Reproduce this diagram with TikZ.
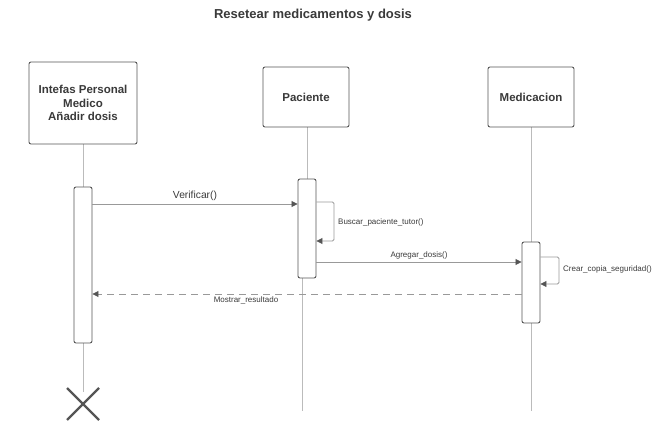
\documentclass[tikz,border=0pt]{standalone}
\usepackage{fontspec}
\setmainfont{Liberation Sans}
\usetikzlibrary{arrows.meta,calc}
\definecolor{boxc}{HTML}{555555}
\definecolor{txt}{HTML}{3A3A3A}
\definecolor{lifec}{HTML}{BBBBBB}
\definecolor{msgc}{HTML}{999999}
\definecolor{headc}{HTML}{555555}
\tikzset{
  x=1pt,y=-1pt,
  actor/.style={draw=boxc,line width=0.9pt,rounded corners=2pt,fill=white,font=\bfseries\fontsize{11.5}{13.5}\selectfont,text=txt,align=center},
  actbox/.style={draw=boxc,line width=0.9pt,rounded corners=2pt,fill=white},
  life/.style={draw=lifec,line width=0.9pt},
  msg/.style={draw=msgc,line width=0.8pt,-{Triangle[length=6pt,width=6pt,color=headc]}},
  ret/.style={msg,dash pattern=on 7pt off 5pt},
  lbl/.style={font=\fontsize{8}{9.5}\selectfont,text=txt,inner sep=1pt},
  lblbig/.style={font=\fontsize{10.3}{12}\selectfont,text=txt,inner sep=1pt},
}
\begin{document}
\begin{tikzpicture}
\useasboundingbox (0,0) rectangle (669,435);
\node[font=\bfseries\fontsize{13}{15}\selectfont,text=txt] (title) at (313,15) {Resetear medicamentos y dosis};
% lifelines
\coordinate (l1t) at (83,144); \coordinate (l1b) at (83,392);
\coordinate (l2t) at (307,126); \coordinate (l2m) at (307,179);
\coordinate (l2c) at (302,278); \coordinate (l2b) at (302,411);
\coordinate (l3t) at (531,127); \coordinate (l3b) at (531,411);
\draw[life] (l1t) -- (l1b);
\draw[life] (l2t) -- (l2m);
\draw[life] (l2c) -- (l2b);
\draw[life] (l3t) -- (l3b);
% actors
\node[actor,minimum width=108pt,minimum height=82pt] (a1) at (83,103) {Intefas Personal\\Medico\\Añadir dosis};
\node[actor,minimum width=86pt,minimum height=60pt] (a2) at (306,97) {Paciente};
\node[actor,minimum width=86pt,minimum height=60pt] (a3) at (531,97) {Medicacion};
% activations
\node[actbox,minimum width=18pt,minimum height=156pt,inner sep=0pt] (b1) at (83,265) {};
\node[actbox,minimum width=18pt,minimum height=99pt,inner sep=0pt] (b2) at (307,228.5) {};
\node[actbox,minimum width=18pt,minimum height=81pt,inner sep=0pt] (b3) at (531,282.5) {};
% messages
\coordinate (m1s) at (b1.east |- 0,204); \coordinate (m1e) at (b2.west |- 0,204);
\draw[msg] (m1s) -- node[lblbig,above=1.5pt] (t1) {Verificar()} (m1e);
\coordinate (s1a) at (b2.east |- 0,202); \coordinate (s1b) at (334,202);
\coordinate (s1c) at (334,241); \coordinate (s1d) at (b2.east |- 0,241);
\draw[msg,rounded corners=1.5pt] (s1a) -- (s1b) -- (s1c) -- (s1d);
\node[lbl,anchor=west] (t2) at (337,222) {Buscar\_paciente\_tutor()};
\coordinate (m2s) at (b2.east |- 0,262); \coordinate (m2e) at (b3.west |- 0,262);
\draw[msg] (m2s) -- node[lbl,above=1.5pt] (t3) {Agregar\_dosis()} (m2e);
\coordinate (s2a) at (b3.east |- 0,257); \coordinate (s2b) at (559,257);
\coordinate (s2c) at (559,284); \coordinate (s2d) at (b3.east |- 0,284);
\draw[msg,rounded corners=1.5pt] (s2a) -- (s2b) -- (s2c) -- (s2d);
\node[lbl,anchor=west] (t4) at (562,269) {Crear\_copia\_seguridad()};
\coordinate (m3s) at (b3.west |- 0,294); \coordinate (m3e) at (b1.east |- 0,294);
\draw[ret] (m3s) -- (m3e);
\node[lbl] (t5) at (246,300.5) {Mostrar\_resultado};
% destroy
\coordinate (x0) at (83,404);
\draw[draw=headc,line width=2.2pt] ($(x0)+(-16,-16)$) -- ($(x0)+(16,16)$) ($(x0)+(-16,16)$) -- ($(x0)+(16,-16)$);
\end{tikzpicture}
\end{document}
